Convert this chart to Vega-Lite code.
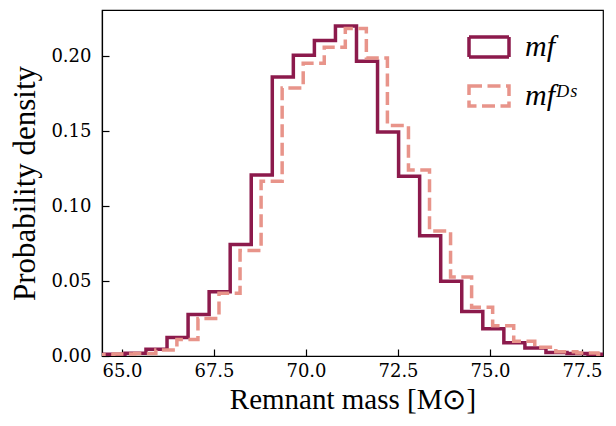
{
  "$schema": "https://vega.github.io/schema/vega-lite/v6.json",
  "width": 501,
  "height": 346,
  "autosize": {"type": "none"},
  "padding": {"left": 102, "top": 10, "right": 13, "bottom": 70},
  "background": "white",
  "config": {
    "font": "Liberation Serif",
    "view": {"stroke": "black", "strokeWidth": 1.2},
    "axis": {
      "grid": false,
      "domainColor": "black",
      "domainWidth": 1.2,
      "tickColor": "black",
      "tickWidth": 1.2,
      "tickSize": -7,
      "labelColor": "black",
      "titleColor": "black",
      "titleFontWeight": "normal"
    }
  },
  "data": {
    "values": [
      {"series": "m_f", "mass": 63.936, "density": 0.0005},
      {"series": "m_f", "mass": 64.508, "density": 0.0011},
      {"series": "m_f", "mass": 65.080, "density": 0.0018},
      {"series": "m_f", "mass": 65.652, "density": 0.0045},
      {"series": "m_f", "mass": 66.224, "density": 0.0124},
      {"series": "m_f", "mass": 66.796, "density": 0.0276},
      {"series": "m_f", "mass": 67.368, "density": 0.0429},
      {"series": "m_f", "mass": 67.940, "density": 0.0743},
      {"series": "m_f", "mass": 68.512, "density": 0.1207},
      {"series": "m_f", "mass": 69.084, "density": 0.1861},
      {"series": "m_f", "mass": 69.656, "density": 0.2005},
      {"series": "m_f", "mass": 70.228, "density": 0.2103},
      {"series": "m_f", "mass": 70.800, "density": 0.2200},
      {"series": "m_f", "mass": 71.372, "density": 0.1966},
      {"series": "m_f", "mass": 71.944, "density": 0.1493},
      {"series": "m_f", "mass": 72.516, "density": 0.1198},
      {"series": "m_f", "mass": 73.088, "density": 0.0802},
      {"series": "m_f", "mass": 73.660, "density": 0.0499},
      {"series": "m_f", "mass": 74.232, "density": 0.0296},
      {"series": "m_f", "mass": 74.804, "density": 0.0181},
      {"series": "m_f", "mass": 75.376, "density": 0.0089},
      {"series": "m_f", "mass": 75.948, "density": 0.0054},
      {"series": "m_f", "mass": 76.520, "density": 0.0023},
      {"series": "m_f", "mass": 77.092, "density": 0.0016},
      {"series": "m_f", "mass": 77.664, "density": 0.0011},
      {"series": "m_f", "mass": 78.236, "density": 0},
      {"series": "m_f^DS", "mass": 64.204, "density": 0.0008},
      {"series": "m_f^DS", "mass": 64.776, "density": 0.0013},
      {"series": "m_f^DS", "mass": 65.348, "density": 0.0017},
      {"series": "m_f^DS", "mass": 65.920, "density": 0.0040},
      {"series": "m_f^DS", "mass": 66.492, "density": 0.0110},
      {"series": "m_f^DS", "mass": 67.064, "density": 0.0250},
      {"series": "m_f^DS", "mass": 67.636, "density": 0.0418},
      {"series": "m_f^DS", "mass": 68.208, "density": 0.0703},
      {"series": "m_f^DS", "mass": 68.780, "density": 0.1165},
      {"series": "m_f^DS", "mass": 69.352, "density": 0.1787},
      {"series": "m_f^DS", "mass": 69.924, "density": 0.1952},
      {"series": "m_f^DS", "mass": 70.496, "density": 0.2058},
      {"series": "m_f^DS", "mass": 71.068, "density": 0.2184},
      {"series": "m_f^DS", "mass": 71.640, "density": 0.1987},
      {"series": "m_f^DS", "mass": 72.212, "density": 0.1537},
      {"series": "m_f^DS", "mass": 72.784, "density": 0.1240},
      {"series": "m_f^DS", "mass": 73.356, "density": 0.0833},
      {"series": "m_f^DS", "mass": 73.928, "density": 0.0527},
      {"series": "m_f^DS", "mass": 74.500, "density": 0.0325},
      {"series": "m_f^DS", "mass": 75.072, "density": 0.0202},
      {"series": "m_f^DS", "mass": 75.644, "density": 0.0098},
      {"series": "m_f^DS", "mass": 76.216, "density": 0.0059},
      {"series": "m_f^DS", "mass": 76.788, "density": 0.0029},
      {"series": "m_f^DS", "mass": 77.360, "density": 0.0020},
      {"series": "m_f^DS", "mass": 77.932, "density": 0.0010},
      {"series": "m_f^DS", "mass": 78.504, "density": 0}
    ]
  },
  "mark": {"type": "line", "interpolate": "step-after", "strokeWidth": 3.5, "clip": true, "strokeJoin": "miter", "strokeCap": "butt"},
  "encoding": {
    "x": {
      "field": "mass",
      "type": "quantitative",
      "scale": {"domain": [64.457, 78.07], "nice": false, "zero": false},
      "axis": {
        "title": "Remnant mass [M⊙]",
        "values": [65, 67.5, 70, 72.5, 75, 77.5],
        "format": ".1f",
        "labelFont": "DejaVu Serif",
        "labelFontSize": 18,
        "labelPadding": 13,
        "titleFont": "Liberation Serif",
        "titleFontSize": 29,
        "titlePadding": 5
      }
    },
    "y": {
      "field": "density",
      "type": "quantitative",
      "scale": {"domain": [0, 0.2307], "nice": false},
      "axis": {
        "title": "Probability density",
        "values": [0, 0.05, 0.1, 0.15, 0.2],
        "format": ".2f",
        "labelFont": "DejaVu Serif",
        "labelFontSize": 18,
        "labelPadding": 18,
        "titleFont": "Liberation Serif",
        "titleFontSize": 31,
        "titlePadding": 9
      }
    },
    "color": {
      "field": "series",
      "type": "nominal",
      "scale": {"domain": ["m_f", "m_f^DS"], "range": ["#8C1A4C", "#E8948A"]},
      "legend": {
        "title": null,
        "orient": "none",
        "legendX": 365,
        "legendY": 15,
        "padding": 0,
        "symbolType": "M-1,-0.5H1V0.5H-1Z",
        "symbolSize": 1600,
        "symbolStrokeWidth": 3.5,
        "labelFont": "Liberation Serif",
        "labelFontStyle": "italic",
        "labelFontSize": 30,
        "labelColor": "black",
        "labelOffset": 14,
        "rowPadding": 10,
        "labelExpr": "datum.label == 'm_f' ? 'mf' : 'mfᴰˢ'"
      }
    },
    "strokeDash": {
      "field": "series",
      "type": "nominal",
      "scale": {"domain": ["m_f", "m_f^DS"], "range": [[1, 0], [13, 5.5]]},
      "legend": null
    }
  }
}
